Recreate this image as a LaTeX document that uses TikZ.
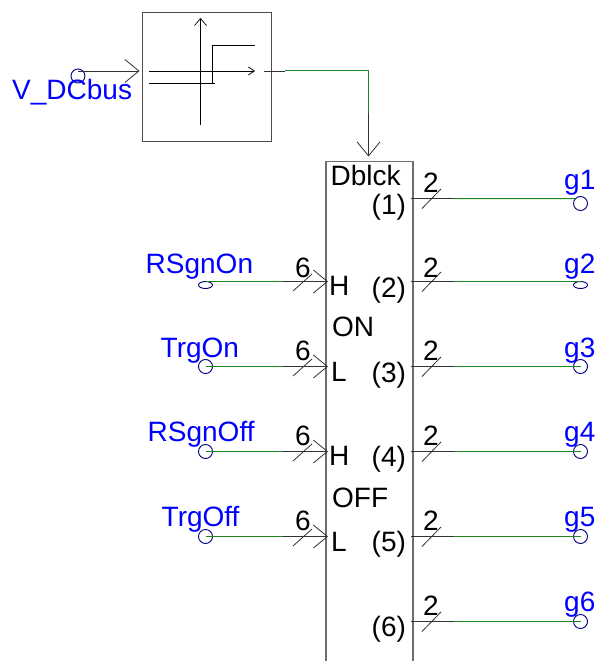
\documentclass[tikz,border=0pt]{standalone}
\usepackage{fontspec}
\setmainfont{Liberation Sans}
\usepackage{tikz}
\usetikzlibrary{shapes.geometric,arrows.meta}
\usepackage{xcolor}
\definecolor{portblue}{RGB}{0,0,255}
\definecolor{termnavy}{RGB}{0,0,128}
\definecolor{wiregreen}{RGB}{30,135,30}
\definecolor{boxgray}{RGB}{110,110,110}
\tikzset{
  lbl/.style={font=\fontsize{28}{30}\selectfont,inner sep=0pt,anchor=base west},
  sig/.style={lbl,text=portblue},
  term/.style={draw=termnavy,circle,minimum size=14pt,inner sep=0pt,outer sep=0pt,line width=0.9pt},
  flatterm/.style={draw=termnavy,ellipse,minimum width=14pt,minimum height=7pt,inner sep=0pt,outer sep=0pt,line width=0.9pt},
  wire/.style={line width=0.8pt,black!80},
  gwire/.style={line width=1pt,wiregreen},
  inarrow/.style={wire,-{Straight Barb[length=14pt,width=23pt]}},
  tinyarrow/.style={line width=0.7pt,-{Straight Barb[length=6pt,width=8pt]}},
  plotline/.style={line width=0.8pt,black}
}
\begin{document}
\begin{tikzpicture}[x=1pt,y=-1pt]
\useasboundingbox (0,0) rectangle (595,661);
% comparator
\node[draw=boxgray!70!black,line width=1.1pt,minimum size=129pt,inner sep=0pt,outer sep=0pt] (cmp) at (207,77.3) {};
\node[term] (vdc) at (78,76) {};
\node[sig] (vdcl) at (12,99.5) {V\_DCbus};
\coordinate (vin) at (78,71);
\draw[inarrow] (vin) -- ([xshift=-3pt]cmp.west |- vin);
\coordinate (xs) at (149,71);
\coordinate (xe) at (255,71);
\draw[tinyarrow] (xs) -- (xe);
\coordinate (ys) at (200.5,125);
\coordinate (ye) at (200.5,18);
\draw[line width=0.7pt,-{Straight Barb[length=7pt,width=12pt]}] (ys) -- (ye);
\coordinate (h1) at (149,83);
\coordinate (h2) at (214.5,83);
\coordinate (h3) at (212.5,83);
\coordinate (h4) at (212.5,45);
\coordinate (h5) at (255,45);
\draw[plotline] (h1) -- (h2) (h3) -- (h4) -- (h5);
% block
\node[minimum width=87pt,minimum height=499.5pt,inner sep=0pt,outer sep=0pt] (blk) at (369.5,411.25) {};
\draw[boxgray,line width=1.3pt] (blk.south west) |- (blk.north east) -- (blk.south east);
\node[lbl] (dblck) at (330.5,185) {Dblck};
\coordinate (c1) at (264,71);
\coordinate (c2) at (285,71);
\coordinate (c3) at (368.5,71);
\coordinate (c4) at (368.5,113);
\draw[wire] (c1) -- (c2);
\draw[gwire] (c2) -- (c3) -- (c4);
\draw[inarrow] (c4) -- ([yshift=5pt]c4 |- blk.north);
% inputs
\node[flatterm] (rson) at (205.5,285) {};
\node[term] (tron) at (205.5,366.5) {};
\node[term] (rsoff) at (205.5,451.5) {};
\node[term] (troff) at (205.5,536.5) {};
\node[sig] (rsonl) at (145.5,273) {RSgnOn};
\node[sig] (tronl) at (160.5,357) {TrgOn};
\node[sig] (rsoffl) at (147.5,441.5) {RSgnOff};
\node[sig] (troffl) at (161.5,526.5) {TrgOff};
\coordinate (i1) at (283,281.5);
\coordinate (i2) at (283,366.5);
\coordinate (i3) at (283,451.5);
\coordinate (i4) at (283,536.5);
\draw[gwire] (rson.north) -- (i1);
\draw[gwire] (tron.center) -- (i2);
\draw[gwire] (rsoff.center) -- (i3);
\draw[gwire] (troff.center) -- (i4);
\draw[inarrow] (i1) -- ([xshift=2pt]blk.west |- i1);
\draw[inarrow] (i2) -- ([xshift=2pt]blk.west |- i2);
\draw[inarrow] (i3) -- ([xshift=2pt]blk.west |- i3);
\draw[inarrow] (i4) -- ([xshift=2pt]blk.west |- i4);
\draw[wire] (293,291) -- (312,274) (293,376) -- (312,359) (293,461) -- (312,444) (293,546) -- (312,529);
\node[lbl] (n1) at (295,277) {6};
\node[lbl] (n2) at (295,360) {6};
\node[lbl] (n3) at (295,445.5) {6};
\node[lbl] (n4) at (295,530) {6};
\node[lbl] (hon) at (329,295) {H};
\node[lbl] (lon) at (331,381) {L};
\node[lbl] (onl) at (332,336) {ON};
\node[lbl] (hoff) at (329,465.5) {H};
\node[lbl] (loff) at (331,551.5) {L};
\node[lbl] (offl) at (332,507.5) {OFF};
% outputs
\node[term] (g1) at (580.5,203.5) {};
\node[flatterm] (g2) at (580.5,285) {};
\node[term] (g3) at (580.5,366.5) {};
\node[term] (g4) at (580.5,451.5) {};
\node[term] (g5) at (580.5,536.5) {};
\node[term] (g6) at (580.5,621.5) {};
\node[sig] (g1l) at (564,189) {g1};
\node[sig] (g2l) at (564,273) {g2};
\node[sig] (g3l) at (564,357) {g3};
\node[sig] (g4l) at (564,441) {g4};
\node[sig] (g5l) at (564,526) {g5};
\node[sig] (g6l) at (564,611) {g6};
\coordinate (o1) at (454,198.5);
\coordinate (o2) at (454,281.5);
\coordinate (o3) at (454,366.5);
\coordinate (o4) at (454,451.5);
\coordinate (o5) at (454,536.5);
\coordinate (o6) at (454,621.5);
\draw[wire] ([xshift=-2pt]blk.east |- o1) -- (o1);
\draw[wire] ([xshift=-2pt]blk.east |- o2) -- (o2);
\draw[wire] ([xshift=-2pt]blk.east |- o3) -- (o3);
\draw[wire] ([xshift=-2pt]blk.east |- o4) -- (o4);
\draw[wire] ([xshift=-2pt]blk.east |- o5) -- (o5);
\draw[wire] ([xshift=-2pt]blk.east |- o6) -- (o6);
\draw[gwire] (o1) -- (g1.north west);
\draw[gwire] (o2) -- (g2.north);
\draw[gwire] (o3) -- (g3.center);
\draw[gwire] (o4) -- (g4.center);
\draw[gwire] (o5) -- (g5.center);
\draw[gwire] (o6) -- (g6.center);
\draw[wire] (422,208.5) -- (441,189) (422,291.5) -- (441,272) (422,376.5) -- (441,357)
  (422,461.5) -- (441,442) (422,546.5) -- (441,527) (422,631.5) -- (441,612);
\node[lbl] (b1) at (423,192) {2};
\node[lbl] (b2) at (423,277) {2};
\node[lbl] (b3) at (423,360) {2};
\node[lbl] (b4) at (423,445) {2};
\node[lbl] (b5) at (423,530) {2};
\node[lbl] (b6) at (423,615) {2};
\node[lbl] (p1) at (371.5,214) {(1)};
\node[lbl] (p2) at (371.5,297) {(2)};
\node[lbl] (p3) at (371.5,382) {(3)};
\node[lbl] (p4) at (371.5,466) {(4)};
\node[lbl] (p5) at (371.5,551) {(5)};
\node[lbl] (p6) at (371.5,636) {(6)};
\end{tikzpicture}
\end{document}
